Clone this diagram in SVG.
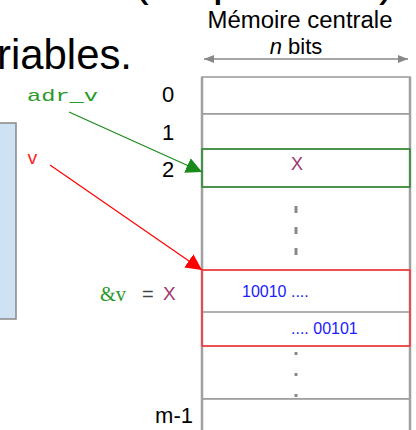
<svg xmlns="http://www.w3.org/2000/svg" width="416" height="430" viewBox="0 0 416 430">
<style>
.sans{font-family:"Liberation Sans",Arial,sans-serif}
.mono{font-family:"Liberation Mono","Courier New",monospace}
.serif{font-family:"Liberation Serif","Times New Roman",serif}
.cell{fill:#fff;stroke:#999;stroke-width:1.5}
.edge{stroke:#a0a0a0;stroke-width:2.5;fill:none}
.dash{stroke:#888;stroke-width:3;fill:none}
</style>
<defs>
<marker id="ag" viewBox="0 0 10 10" refX="10" refY="5" markerWidth="16" markerHeight="16" markerUnits="userSpaceOnUse" orient="auto"><path d="M0,0 L10,5 L0,10 z" fill="#1a8a1a"/></marker>
<marker id="ar" viewBox="0 0 10 10" refX="10" refY="5" markerWidth="16" markerHeight="16" markerUnits="userSpaceOnUse" orient="auto"><path d="M0,0 L10,5 L0,10 z" fill="#ff0000"/></marker>
<marker id="agr" viewBox="0 0 10 10" refX="10" refY="5" markerWidth="12" markerHeight="10" markerUnits="userSpaceOnUse" orient="auto-start-reverse"><path d="M0,1 L10,5 L0,9 z" fill="#888"/></marker>
</defs>
<g id="title">
<text class="sans" x="-2" y="-5" font-size="46" fill="#000">esse : (un pointeur) des</text>
<text class="sans" x="-3" y="69" font-size="43" fill="#000" textLength="135" lengthAdjust="spacingAndGlyphs">riables.</text>
</g>
<g id="header">
<text class="sans" x="300" y="28" font-size="23" text-anchor="middle" textLength="185" lengthAdjust="spacingAndGlyphs">Mémoire centrale</text>
<text class="sans" x="296" y="54" font-size="22" text-anchor="middle"><tspan font-style="italic">n</tspan> bits</text>
<line x1="204" y1="59" x2="408" y2="59" stroke="#888" stroke-width="1.5" marker-start="url(#agr)" marker-end="url(#agr)"/>
</g>
<g id="left-box"><rect x="-2" y="123" width="18" height="196" fill="#cfe2f3" stroke="#888" stroke-width="1.5"/></g>
<g id="memory">
<rect class="cell" x="202" y="77" width="208" height="37"/>
<rect class="cell" x="202" y="114" width="208" height="35"/>
<rect class="cell" x="202" y="187" width="208" height="83"/>
<rect class="cell" x="202" y="346" width="208" height="53"/>
<rect class="cell" x="202" y="399" width="208" height="40"/>
<line x1="202" y1="312" x2="410" y2="312" stroke="#999" stroke-width="1.5"/>
<line class="edge" x1="202" y1="77" x2="202" y2="430"/>
<line class="edge" x1="410" y1="77" x2="410" y2="430"/>
<line class="dash" x1="296" y1="206" x2="296" y2="256" stroke-dasharray="7 14"/>
<line class="dash" x1="296" y1="352" x2="296" y2="398" stroke-dasharray="3 18"/>
</g>
<g id="cell-x">
<rect x="202" y="149" width="208" height="38" fill="none" stroke="#2a8a2a" stroke-width="1.5"/>
<text class="sans" x="297" y="170" font-size="18" fill="#a0386e" text-anchor="middle">X</text>
</g>
<g id="cell-v">
<rect x="202" y="270" width="208" height="76" fill="none" stroke="#ff3030" stroke-width="1.5"/>
<text class="sans" x="242" y="297" font-size="16" fill="#2020ff">10010 ....</text>
<text class="sans" x="291" y="334" font-size="16" fill="#2020ff">.... 00101</text>
</g>
<g id="addresses" class="sans" font-size="22" fill="#000">
<text x="168" y="102" text-anchor="middle">0</text>
<text x="168" y="140" text-anchor="middle">1</text>
<text x="168" y="177" text-anchor="middle">2</text>
<text x="193" y="423" text-anchor="end">m-1</text>
</g>
<g id="labels">
<text class="mono" x="27" y="101" font-size="17" fill="#2a9a2a" textLength="71" lengthAdjust="spacingAndGlyphs">adr_v</text>
<text class="mono" x="27" y="164" font-size="18" fill="#ff2020">v</text>
<text class="serif" x="100" y="301" font-size="21" fill="#2a9a2a" textLength="26" lengthAdjust="spacingAndGlyphs">&amp;v</text>
<text class="sans" x="142" y="301" font-size="20" fill="#444">=</text>
<text class="sans" x="163" y="300" font-size="19" fill="#a0386e">X</text>
</g>
<g id="connectors">
<line x1="69" y1="112" x2="202" y2="172" stroke="#1a8a1a" stroke-width="1.2" marker-end="url(#ag)"/>
<line x1="50" y1="165" x2="202" y2="270" stroke="#ff0000" stroke-width="1.2" marker-end="url(#ar)"/>
</g>
</svg>
